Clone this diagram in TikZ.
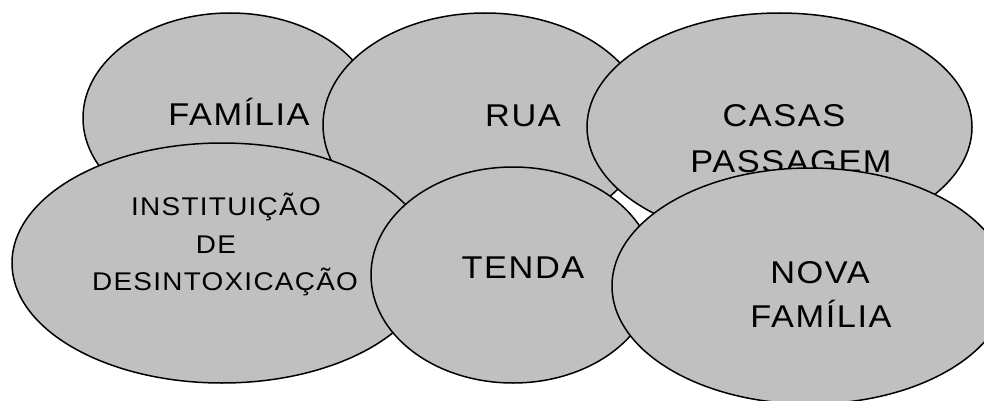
\documentclass[tikz,border=0pt]{standalone}
\usepackage{fontspec}
\setmainfont{Liberation Sans}[FakeStretch=1.09,LetterSpace=5]
\usetikzlibrary{shapes.geometric}
\tikzset{
  blob/.style={ellipse, draw=black, fill=blobgray, line width=1.5pt, inner sep=0pt},
  big/.style={anchor=base, inner sep=0pt, font=\fontsize{31.5}{36}\selectfont},
  small/.style={anchor=base, inner sep=0pt, font=\fontsize{25.6}{30}\selectfont}
}
\definecolor{blobgray}{RGB}{192,192,192}
\begin{document}
\begin{tikzpicture}[x=1pt,y=-1pt]
\useasboundingbox (0,0) rectangle (984,401);
\fill[white] (0,0) rectangle (984,401);
\node[blob, minimum width=294pt, minimum height=210pt] (fam) at (230,118) {};
\node[big] (famt) at (239,125) {FAMÍLIA};
\node[blob, minimum width=324pt, minimum height=224pt] (rua) at (485,125) {};
\node[big] (ruat) at (523,127) {RUA};
\node[blob, minimum width=385pt, minimum height=228pt] (casas) at (779.5,127) {};
\node[big] (casast) at (784,126) {CASAS};
\node[big] (passt) at (791,172) {PASSAGEM};
\node[blob, minimum width=420pt, minimum height=240pt] (inst) at (222,263) {};
\node[small] (instt1) at (226,215) {INSTITUIÇÃO};
\node[small] (instt2) at (216,253) {DE};
\node[small] (instt3) at (225,290) {DESINTOXICAÇÃO};
\node[blob, minimum width=284pt, minimum height=216pt] (tenda) at (513,275) {};
\node[big] (tendat) at (523,278) {TENDA};
\node[blob, minimum width=396pt, minimum height=236pt] (nova) at (810,286) {};
\node[big] (novat1) at (820,283) {NOVA};
\node[big] (novat2) at (821,327) {FAMÍLIA};
\end{tikzpicture}
\end{document}
